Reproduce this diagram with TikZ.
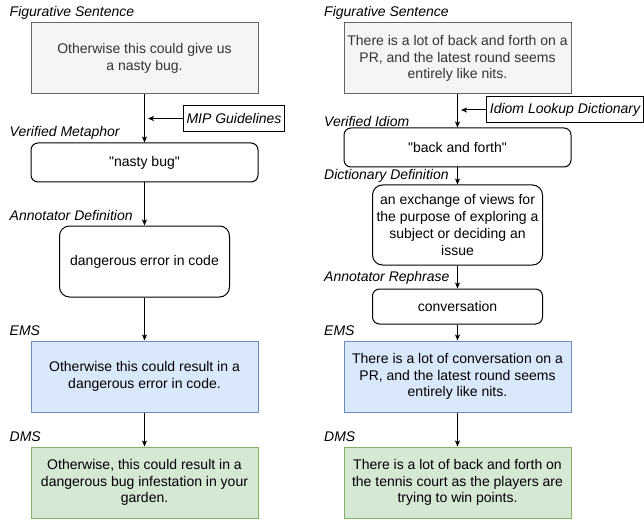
\documentclass[tikz,border=0pt]{standalone}
\usepackage{fontspec}
\setmainfont{Liberation Sans}
\usepackage{xcolor}
\usetikzlibrary{positioning,arrows.meta}
\definecolor{sentfill}{HTML}{F5F5F5}
\definecolor{sentdraw}{HTML}{666666}
\definecolor{senttext}{HTML}{333333}
\definecolor{emsfill}{HTML}{DAE8FC}
\definecolor{emsdraw}{HTML}{6C8EBF}
\definecolor{dmsfill}{HTML}{D5E8D4}
\definecolor{dmsdraw}{HTML}{82B366}

\begin{document}
\begin{tikzpicture}
	[x=1pt,y=-1pt,
	every node/.style={font=\fontsize{14}{16.8}\selectfont,align=center,inner sep=0pt},
	tag/.style={anchor=west,font=\fontsize{14}{16.8}\selectfont\itshape},
	wide/.style={draw,minimum width=227pt,minimum height=71pt,line width=1pt},
	sent/.style={wide,fill=sentfill,draw=sentdraw,text=senttext},
	ems/.style={wide,fill=emsfill,draw=emsdraw},
	dms/.style={wide,fill=dmsfill,draw=dmsdraw},
	term/.style={draw,rounded corners=7pt,minimum width=227pt,minimum height=39pt,line width=1pt},
	gloss/.style={draw,rounded corners=10pt,minimum width=170pt,line width=1pt},
	source/.style={draw,line width=1pt,minimum height=26pt,inner xsep=3pt,font=\fontsize{14}{16.8}\selectfont\itshape},
	flow/.style={draw,line width=1pt,-{Stealth[length=6pt,width=5pt,inset=1.5pt]}}]
	\useasboundingbox (0,0) rectangle (644,521);

	% metaphor column
	\node[tag] (lfs1) at (9.5,13) {Figurative Sentence};
	\node[sent] (fs1) at (144.5,58.5) {Otherwise this could give us\\a nasty bug.};
	\node[tag] (lvm1) at (9.5,133) {Verified Metaphor};
	\node[term] (vm1) at (144.5,162.5) {\textquotedbl nasty bug\textquotedbl};
	\node[tag] (lad1) at (9.5,215) {Annotator Definition};
	\node[gloss,minimum height=71pt] (ad1) at (144.5,261.5) {dangerous error in code};
	\node[tag] (lems1) at (9.5,331) {EMS};
	\node[ems] (ems1) at (144.5,376.5) {Otherwise this could result in a\\dangerous error in code.};
	\node[tag] (ldms1) at (9.5,437) {DMS};
	\node[dms] (dms1) at (144.5,482.5) {Otherwise, this could result in a\\dangerous bug infestation in your\\garden.};
	\node[source] (mip) at (234,118.5) {MIP Guidelines};
	\coordinate (mipend) at (148,118.5);

	\draw[flow] (fs1) -- (vm1);
	\draw[flow] (vm1) -- (ad1);
	\draw[flow] (ad1) -- (ems1);
	\draw[flow] (ems1) -- (dms1);
	\draw[flow] (mip) -- (mipend);

	% idiom column
	\node[tag] (lfs2) at (324,13) {Figurative Sentence};
	\node[sent] (fs2) at (457.5,58.5) {There is a lot of back and forth on a\\PR, and the latest round seems\\entirely like nits.};
	\node[tag] (lvi2) at (324,122) {Verified Idiom};
	\node[term] (vi2) at (457.5,147.5) {\textquotedbl back and forth\textquotedbl};
	\node[tag] (ldd2) at (324,176) {Dictionary Definition};
	\node[gloss,minimum height=80pt] (dd2) at (457.5,225) {an exchange of views for\\the purpose of exploring a\\subject or deciding an\\issue};
	\node[tag] (lar2) at (324,278) {Annotator Rephrase};
	\node[gloss,rounded corners=7pt,minimum height=35pt] (ar2) at (457.5,306.5) {conversation};
	\node[tag] (lems2) at (324,331) {EMS};
	\node[ems] (ems2) at (457.5,376.5) {There is a lot of conversation on a\\PR, and the latest round seems\\entirely like nits.};
	\node[tag] (ldms2) at (324,437) {DMS};
	\node[dms] (dms2) at (457.5,482.5) {There is a lot of back and forth on\\the tennis court as the players are\\trying to win points.};
	\node[source,minimum width=156pt] (ild) at (565,110) {Idiom Lookup Dictionary};
	\coordinate (ildend) at (461,110);

	\draw[flow] (fs2) -- (vi2);
	\draw[flow] (vi2) -- (dd2);
	\draw[flow] (dd2) -- (ar2);
	\draw[flow] (ar2) -- (ems2);
	\draw[flow] (ems2) -- (dms2);
	\draw[flow] (ild) -- (ildend);
\end{tikzpicture}
\end{document}
